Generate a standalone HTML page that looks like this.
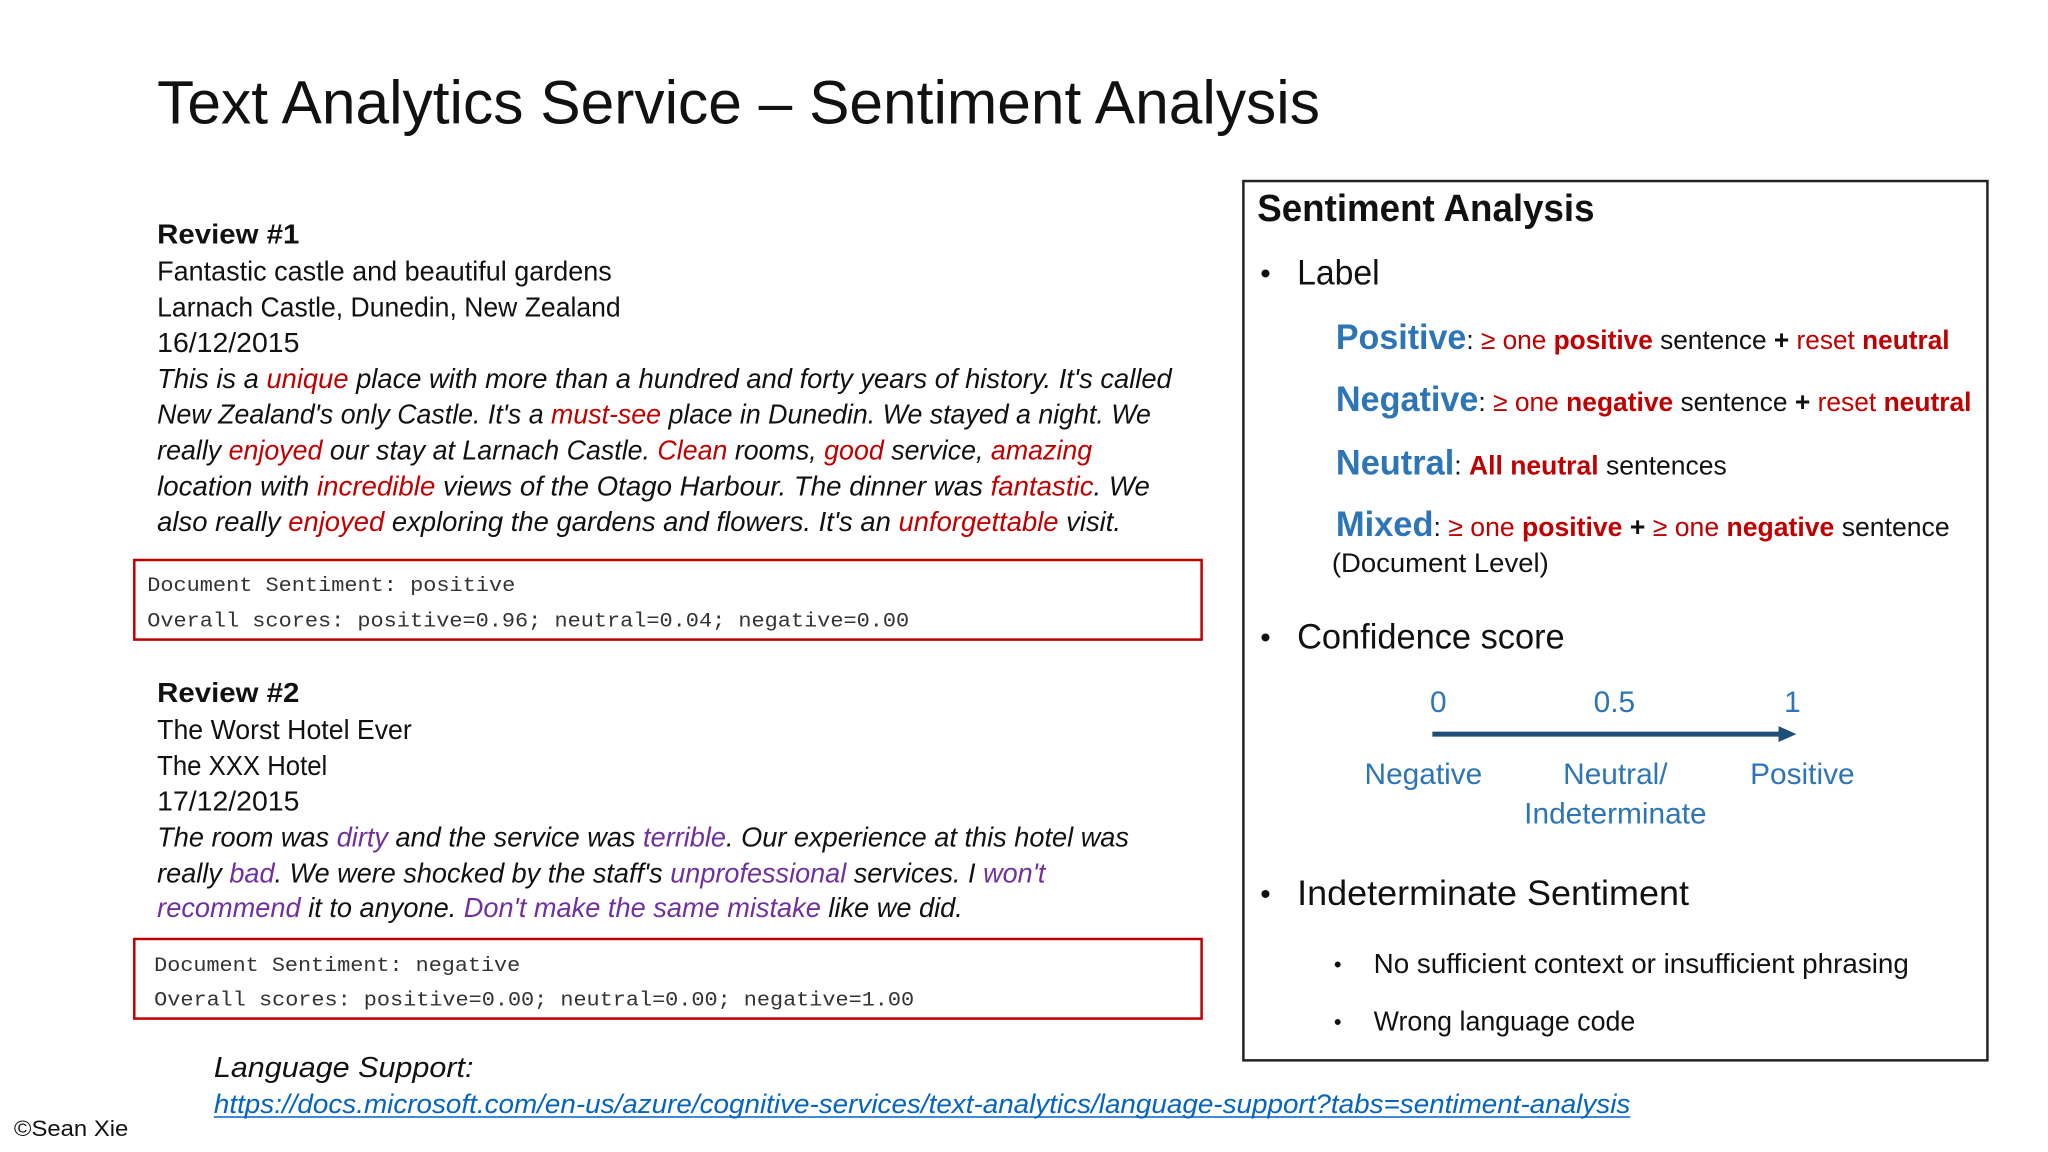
<!DOCTYPE html>
<html><head><meta charset="utf-8"><style>
html,body{margin:0;padding:0;background:#fff;}
svg{display:block;}
text{font-family:"Liberation Sans",sans-serif;}
.mono{font-family:"Liberation Mono",monospace;fill:#333;}
.r{fill:#c00000;} .p{fill:#7030a0;} .b{fill:#2e75b6;} .bd{font-weight:bold;}
</style></head><body>
<svg width="2048" height="1152" viewBox="0 0 2048 1152">
<rect width="2048" height="1152" fill="#fff"/>
<g transform="scale(0.9947)">
<text x="158" y="124" font-size="62" fill="#111" textLength="1169" lengthAdjust="spacingAndGlyphs">Text Analytics Service – Sentiment Analysis</text>

<g font-size="28" fill="#111">
<text x="158" y="245" font-weight="bold" textLength="143" lengthAdjust="spacingAndGlyphs">Review #1</text>
<text x="158" y="282" textLength="457" lengthAdjust="spacingAndGlyphs">Fantastic castle and beautiful gardens</text>
<text x="158" y="318" textLength="466" lengthAdjust="spacingAndGlyphs">Larnach Castle, Dunedin, New Zealand</text>
<text x="158" y="354" textLength="143" lengthAdjust="spacingAndGlyphs">16/12/2015</text>
<g font-style="italic">
<text x="158" y="390" textLength="1020" lengthAdjust="spacingAndGlyphs">This is a <tspan class="r">unique</tspan> place with more than a hundred and forty years of history. It's called</text>
<text x="158" y="426" textLength="999" lengthAdjust="spacingAndGlyphs">New Zealand's only Castle. It's a <tspan class="r">must-see</tspan> place in Dunedin. We stayed a night. We</text>
<text x="158" y="462" textLength="940" lengthAdjust="spacingAndGlyphs">really <tspan class="r">enjoyed</tspan> our stay at Larnach Castle. <tspan class="r">Clean</tspan> rooms, <tspan class="r">good</tspan> service, <tspan class="r">amazing</tspan></text>
<text x="158" y="498" textLength="998" lengthAdjust="spacingAndGlyphs">location with <tspan class="r">incredible</tspan> views of the Otago Harbour. The dinner was <tspan class="r">fantastic</tspan>. We</text>
<text x="158" y="534" textLength="969" lengthAdjust="spacingAndGlyphs">also really <tspan class="r">enjoyed</tspan> exploring the gardens and flowers. It's an <tspan class="r">unforgettable</tspan> visit.</text>
</g></g>

<g>
<rect x="135" y="563" width="1073" height="80" fill="none" stroke="#c00000" stroke-width="2.5"/>
<text class="mono" x="148" y="594" font-size="20" textLength="370" lengthAdjust="spacingAndGlyphs">Document Sentiment: positive</text>
<text class="mono" x="148" y="630" font-size="20" textLength="766" lengthAdjust="spacingAndGlyphs">Overall scores: positive=0.96; neutral=0.04; negative=0.00</text>
</g>

<g font-size="28" fill="#111">
<text x="158" y="706" font-weight="bold" textLength="143" lengthAdjust="spacingAndGlyphs">Review #2</text>
<text x="158" y="743" textLength="256" lengthAdjust="spacingAndGlyphs">The Worst Hotel Ever</text>
<text x="158" y="779" textLength="171" lengthAdjust="spacingAndGlyphs">The XXX Hotel</text>
<text x="158" y="815" textLength="143" lengthAdjust="spacingAndGlyphs">17/12/2015</text>
<g font-style="italic">
<text x="158" y="851" textLength="977" lengthAdjust="spacingAndGlyphs">The room was <tspan class="p">dirty</tspan> and the service was <tspan class="p">terrible</tspan>. Our experience at this hotel was</text>
<text x="158" y="887" textLength="893" lengthAdjust="spacingAndGlyphs">really <tspan class="p">bad</tspan>. We were shocked by the staff's <tspan class="p">unprofessional</tspan> services. I <tspan class="p">won't</tspan></text>
<text x="158" y="922" textLength="810" lengthAdjust="spacingAndGlyphs"><tspan class="p">recommend</tspan> it to anyone. <tspan class="p">Don't make the same mistake</tspan> like we did.</text>
</g></g>

<g>
<rect x="135" y="944" width="1073" height="80" fill="none" stroke="#c00000" stroke-width="2.5"/>
<text class="mono" x="155" y="976" font-size="20" textLength="368" lengthAdjust="spacingAndGlyphs">Document Sentiment: negative</text>
<text class="mono" x="155" y="1011" font-size="20" textLength="764" lengthAdjust="spacingAndGlyphs">Overall scores: positive=0.00; neutral=0.00; negative=1.00</text>
</g>

<text x="215" y="1083" font-size="29" font-style="italic" fill="#111" textLength="261" lengthAdjust="spacingAndGlyphs">Language Support:</text>
<text x="215" y="1119" font-size="27" font-style="italic" fill="#0563c1" textLength="1424" lengthAdjust="spacingAndGlyphs">https://docs.microsoft.com/en-us/azure/cognitive-services/text-analytics/language-support?tabs=sentiment-analysis</text>
<line x1="215" y1="1123" x2="1639" y2="1123" stroke="#0563c1" stroke-width="1.5"/>
<text x="14" y="1142" font-size="22" fill="#111" textLength="115" lengthAdjust="spacingAndGlyphs">©Sean Xie</text>

<g fill="#111">
<rect x="1250" y="182" width="748" height="884" fill="none" stroke="#222" stroke-width="2.5"/>
<text x="1264" y="222" font-size="38" font-weight="bold" textLength="339" lengthAdjust="spacingAndGlyphs">Sentiment Analysis</text>
<text x="1267" y="285" font-size="30">•</text>
<text x="1304" y="286" font-size="35" textLength="83" lengthAdjust="spacingAndGlyphs">Label</text>
<g font-size="27">
<text x="1343" y="351" textLength="617" lengthAdjust="spacingAndGlyphs"><tspan class="b bd" font-size="35">Positive</tspan>: <tspan class="r">≥ one </tspan><tspan class="r bd">positive</tspan> sentence <tspan class="bd">+</tspan> <tspan class="r">reset </tspan><tspan class="r bd">neutral</tspan></text>
<text x="1343" y="413" textLength="639" lengthAdjust="spacingAndGlyphs"><tspan class="b bd" font-size="35">Negative</tspan>: <tspan class="r">≥ one </tspan><tspan class="r bd">negative</tspan> sentence <tspan class="bd">+</tspan> <tspan class="r">reset </tspan><tspan class="r bd">neutral</tspan></text>
<text x="1343" y="477" textLength="393" lengthAdjust="spacingAndGlyphs"><tspan class="b bd" font-size="35">Neutral</tspan>: <tspan class="r bd">All neutral</tspan> sentences</text>
<text x="1343" y="539" textLength="617" lengthAdjust="spacingAndGlyphs"><tspan class="b bd" font-size="35">Mixed</tspan>: <tspan class="r">≥ one </tspan><tspan class="r bd">positive</tspan> <tspan class="bd">+</tspan> <tspan class="r">≥ one </tspan><tspan class="r bd">negative</tspan> sentence</text>
<text x="1339" y="575" textLength="218" lengthAdjust="spacingAndGlyphs">(Document Level)</text>
</g>
<text x="1267" y="651" font-size="30">•</text>
<text x="1304" y="652" font-size="35" textLength="269" lengthAdjust="spacingAndGlyphs">Confidence score</text>
<g font-size="30" fill="#2e75b6" text-anchor="middle">
<text x="1446" y="716">0</text>
<text x="1623" y="716">0.5</text>
<text x="1802" y="716">1</text>
<line x1="1440" y1="738" x2="1790" y2="738" stroke="#1f4e79" stroke-width="5"/>
<polygon points="1788,730 1806,738 1788,746" fill="#1f4e79"/>
<text x="1431" y="788">Negative</text>
<text x="1624" y="788">Neutral/</text>
<text x="1624" y="828">Indeterminate</text>
<text x="1812" y="788">Positive</text>
</g>
<text x="1267" y="909" font-size="30">•</text>
<text x="1304" y="910" font-size="35" textLength="394" lengthAdjust="spacingAndGlyphs">Indeterminate Sentiment</text>
<text x="1341" y="977" font-size="22">•</text>
<text x="1381" y="978" font-size="28" textLength="538" lengthAdjust="spacingAndGlyphs">No sufficient context or insufficient phrasing</text>
<text x="1341" y="1035" font-size="22">•</text>
<text x="1381" y="1036" font-size="28" textLength="263" lengthAdjust="spacingAndGlyphs">Wrong language code</text>
</g>
</g>
</svg>
</body></html>
